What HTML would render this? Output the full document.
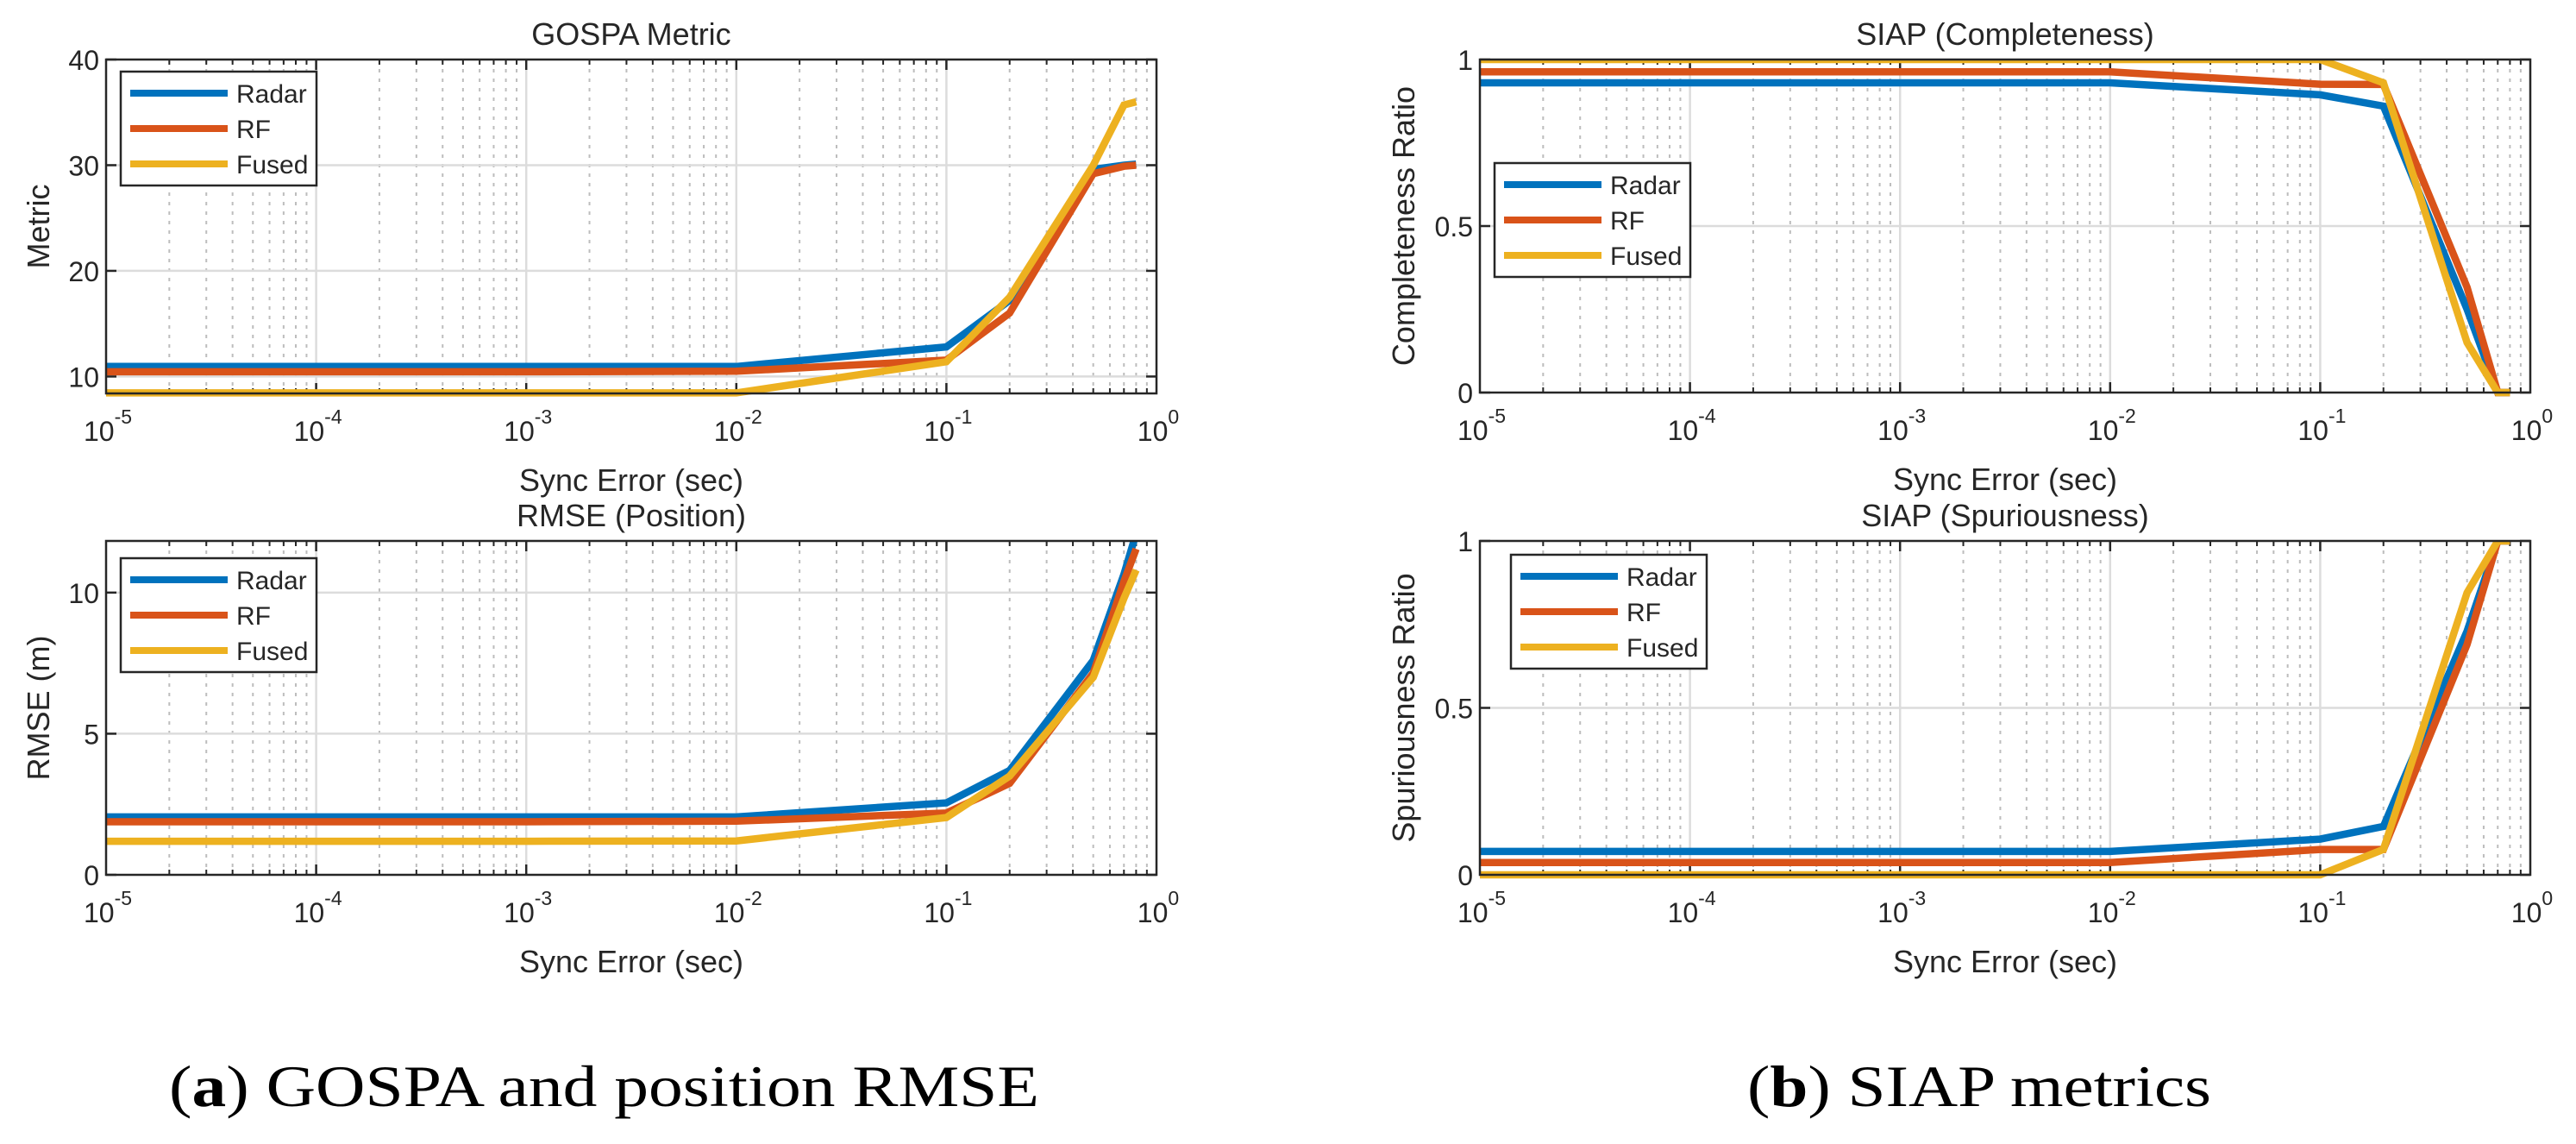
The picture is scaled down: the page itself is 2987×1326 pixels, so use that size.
<!DOCTYPE html>
<html><head><meta charset="utf-8"><style>
html,body{margin:0;padding:0;background:#fff;}
svg{display:block;}
text{font-family:"Liberation Sans",Arial,sans-serif;fill:#262626;}
.cap{font-family:"Liberation Serif",serif;fill:#000;}
</style></head><body>
<svg id="fig" width="2987" height="1326" viewBox="0 0 2987 1326" xmlns="http://www.w3.org/2000/svg">
<text class="cap" x="196" y="1282" font-size="68" textLength="1009" lengthAdjust="spacingAndGlyphs">(<tspan font-weight="bold">a</tspan>) GOSPA and position RMSE</text>
<text class="cap" x="2026" y="1282" font-size="68" textLength="538" lengthAdjust="spacingAndGlyphs">(<tspan font-weight="bold">b</tspan>) SIAP metrics</text>
</svg>
<script>
const syncErr = [1e-5, 1e-4, 1e-3, 1e-2, 0.1, 0.2, 0.5, 0.7, 0.8];
const seriesNames = ["Radar", "RF", "Fused"];
const gospaRadar = [10.95, 10.95, 10.95, 10.95, 12.8, 17.2, 29.6, 30.0, 30.1];
const gospaRF    = [10.45, 10.45, 10.45, 10.5, 11.55, 16.0, 29.2, 29.9, 30.0];
const gospaFused = [8.45, 8.45, 8.45, 8.45, 11.4, 17.5, 30.0, 35.7, 36.0];
const rmseRadar = [2.05, 2.05, 2.05, 2.05, 2.55, 3.7, 7.6, 10.65, 12.1];
const rmseRF    = [1.88, 1.88, 1.88, 1.9, 2.19, 3.24, 7.15, 10.4, 11.55];
const rmseFused = [1.19, 1.19, 1.19, 1.2, 2.03, 3.5, 7.0, 9.8, 10.8];
const compRadar = [0.93, 0.93, 0.93, 0.93, 0.894, 0.86, 0.25, 0.0, 0.0];
const compRF    = [0.963, 0.963, 0.963, 0.963, 0.926, 0.925, 0.316, 0.0, 0.0];
const compFused = [1.0, 1.0, 1.0, 1.0, 1.0, 0.93, 0.15, 0.0, 0.0];
const spurRadar = [0.07, 0.07, 0.07, 0.07, 0.107, 0.145, 0.73, 1.0, 1.0];
const spurRF    = [0.037, 0.037, 0.037, 0.037, 0.076, 0.076, 0.69, 1.0, 1.0];
const spurFused = [0.0, 0.0, 0.0, 0.0, 0.0, 0.076, 0.845, 1.0, 1.0];
const gospaTicks = [10, 20, 30, 40];
const rmseTicks = [0, 5, 10];
const ratioTicks = [0, 0.5, 1];
const ratioTickLabels = ["0", "0.5", "1"];
const xDecades = [-5, -4, -3, -2, -1, 0];

const colors = ["#0072BD", "#D95319", "#EDB120"];
const NS = "http://www.w3.org/2000/svg";
const svg = document.getElementById('fig');
function mk(tag, attrs, parent) {
  const e = document.createElementNS(NS, tag);
  for (const k in attrs) e.setAttribute(k, attrs[k]);
  (parent || svg).appendChild(e);
  return e;
}

function drawPanel(p) {
  const g = mk('g', {});
  
  
  const L = p.L, R = p.R, T = p.T, B = p.B;
  const xs = v => L + (Math.log10(v) + 5) / 5 * (R - L);
  const ys = v => B - (v - p.ymin) / (p.ymax - p.ymin) * (B - T);
  for (let d = -5; d < 0; d++) {
    for (let m = 2; m <= 9; m++) {
      const x = xs(m * Math.pow(10, d));
      const ln = mk('line', {x1: x, x2: x, y1: T, y2: B, stroke: '#bdbdbd', 'stroke-width': 2, 'stroke-dasharray': '4,7'}, g);
      
      
      mk('line', {x1: x, x2: x, y1: B, y2: B - 6, stroke: '#262626', 'stroke-width': 2}, g);
      mk('line', {x1: x, x2: x, y1: T, y2: T + 6, stroke: '#262626', 'stroke-width': 2}, g);
    }
  }
  xDecades.forEach(d => {
    const x = xs(Math.pow(10, d));
    if (d > -5 && d < 0) {
      const ln = mk('line', {x1: x, x2: x, y1: T, y2: B, stroke: '#dcdcdc', 'stroke-width': 2.5}, g);
      
      
      mk('line', {x1: x, x2: x, y1: B, y2: B - 12, stroke: '#262626', 'stroke-width': 2.5}, g);
      mk('line', {x1: x, x2: x, y1: T, y2: T + 12, stroke: '#262626', 'stroke-width': 2.5}, g);
    }
    const t = mk('text', {x: x + 2, y: B + 55, 'font-size': 32, 'text-anchor': 'middle'}, g);
    
    
    t.textContent = '10';
    const s = mk('tspan', {dy: -20, 'font-size': 23}, t);
    s.textContent = String(d);
  });
  p.yt.forEach((v, i) => {
    const y = ys(v);
    if (y > T + 1 && y < B - 1) {
      const ln = mk('line', {x1: L, x2: R, y1: y, y2: y, stroke: '#dcdcdc', 'stroke-width': 2.5}, g);
      
      
    }
    mk('line', {x1: L, x2: L + 12, y1: y, y2: y, stroke: '#262626', 'stroke-width': 2.5}, g);
    mk('line', {x1: R, x2: R - 12, y1: y, y2: y, stroke: '#262626', 'stroke-width': 2.5}, g);
    const t = mk('text', {x: L - 8, y: y + 12, 'font-size': 32, 'text-anchor': 'end'}, g);
    
    
    t.textContent = p.ytl ? p.ytl[i] : String(v);
  });
  const clip = 'clip-' + p.name;
  const cp = mk('clipPath', {id: clip}, g);
  mk('rect', {x: L - 10, y: T, width: R - L + 20, height: B - T + 10}, cp);
  p.series.forEach((arr, si) => {
    const pts = arr.map((v, i) => xs(syncErr[i]).toFixed(1) + ',' + ys(v).toFixed(1)).join(' ');
    const pl = mk('polyline', {points: pts, fill: 'none', stroke: colors[si], 'stroke-width': 8.5, 'stroke-linejoin': 'miter', 'clip-path': 'url(#' + clip + ')'}, g);
    
    
  });
  const bx = mk('rect', {x: L, y: T, width: R - L, height: B - T, fill: 'none', stroke: '#262626', 'stroke-width': 2.5}, g);
  
  
  const tt = mk('text', {x: (L + R) / 2, y: T - 17, 'font-size': 36, 'text-anchor': 'middle', fill: '#000'}, g);
  
  
  tt.textContent = p.title;
  const xl = mk('text', {x: (L + R) / 2, y: B + 113, 'font-size': 36, 'text-anchor': 'middle'}, g);
  
  
  xl.textContent = 'Sync Error (sec)';
  const yl = mk('text', {x: 0, y: 0, 'font-size': 36, 'text-anchor': 'middle', transform: 'translate(' + p.ylx + ',' + ((T + B) / 2) + ') rotate(-90)'}, g);
  
  
  yl.textContent = p.ylabel;
  const lg = mk('g', {}, g);
  
  
  mk('rect', {x: p.lx, y: p.ly, width: 227, height: 132, fill: '#fff', stroke: '#262626', 'stroke-width': 2.5}, lg);
  seriesNames.forEach((n, i) => {
    const y = p.ly + 25 + i * 41;
    const e = mk('g', {}, lg);
    
    
    mk('line', {x1: p.lx + 11, x2: p.lx + 124, y1: y, y2: y, stroke: colors[i], 'stroke-width': 8}, e);
    const t = mk('text', {x: p.lx + 134, y: y + 11, 'font-size': 30, fill: '#000'}, e);
    t.textContent = n;
  });
}

drawPanel({name: 'gospa-chart', L: 123, R: 1341, T: 69, B: 456, ymin: 8.4, ymax: 40, yt: gospaTicks,
  series: [gospaRadar, gospaRF, gospaFused], title: 'GOSPA Metric', ylabel: 'Metric', ylx: 57, lx: 140, ly: 83});
drawPanel({name: 'rmse-chart', L: 123, R: 1341, T: 627, B: 1014, ymin: 0, ymax: 11.83, yt: rmseTicks,
  series: [rmseRadar, rmseRF, rmseFused], title: 'RMSE (Position)', ylabel: 'RMSE (m)', ylx: 57, lx: 140, ly: 647});
drawPanel({name: 'completeness-chart', L: 1716, R: 2934, T: 69, B: 455, ymin: 0, ymax: 1, yt: ratioTicks, ytl: ratioTickLabels,
  series: [compRadar, compRF, compFused], title: 'SIAP (Completeness)', ylabel: 'Completeness Ratio', ylx: 1640, lx: 1733, ly: 189});
drawPanel({name: 'spuriousness-chart', L: 1716, R: 2934, T: 627, B: 1014, ymin: 0, ymax: 1, yt: ratioTicks, ytl: ratioTickLabels,
  series: [spurRadar, spurRF, spurFused], title: 'SIAP (Spuriousness)', ylabel: 'Spuriousness Ratio', ylx: 1640, lx: 1752, ly: 643});
</script>
</body></html>
